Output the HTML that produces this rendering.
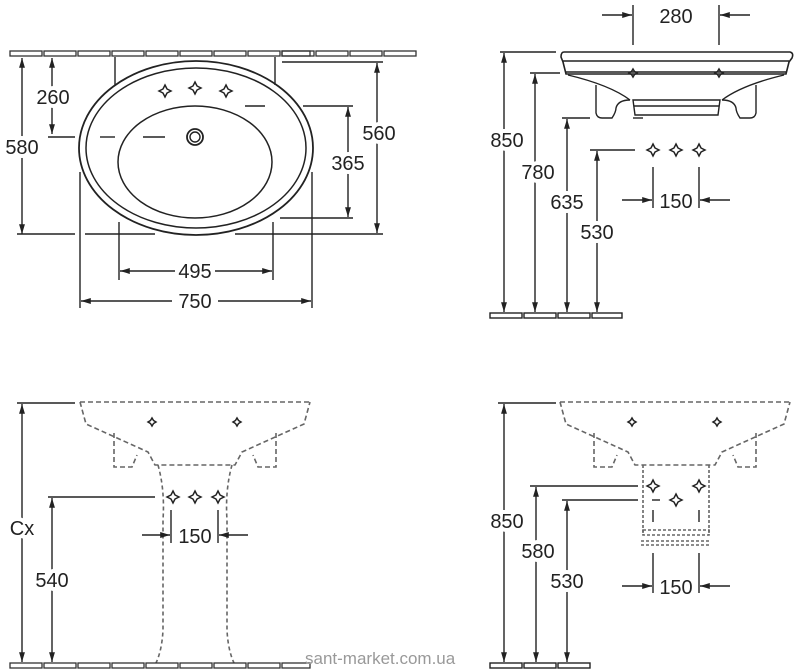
<!DOCTYPE html>
<html><head><meta charset="utf-8"><style>
html,body{margin:0;padding:0;background:#fff;}
svg{display:block;}
text{font-family:"Liberation Sans",sans-serif;font-size:20px;fill:#222;text-anchor:middle;paint-order:stroke;stroke:#fff;stroke-width:8px;stroke-linejoin:round;}
</style></head><body>
<svg width="800" height="672" viewBox="0 0 800 672" xmlns="http://www.w3.org/2000/svg">
<defs>
<marker id="a" viewBox="0 0 10 10" refX="10" refY="5" markerWidth="7" markerHeight="7" orient="auto-start-reverse"><path d="M0,2 L10,5 L0,8 z" fill="#222"/></marker>
<g id="tap"><path d="M0,-6 L2,-2 L6,0 L2,2 L0,6 L-2,2 L-6,0 L-2,-2 Z" fill="none" stroke="#222" stroke-width="1.5"/></g>
<g id="tapS"><path d="M0,-4 L1.5,-1.5 L4,0 L1.5,1.5 L0,4 L-1.5,1.5 L-4,0 L-1.5,-1.5 Z" fill="none" stroke="#222" stroke-width="1.5"/></g>
<g id="floor9" fill="none" stroke="#333" stroke-width="1.3"><rect x="0" y="0" width="32" height="5"/><rect x="34" y="0" width="32" height="5"/><rect x="68" y="0" width="32" height="5"/><rect x="102" y="0" width="32" height="5"/><rect x="136" y="0" width="32" height="5"/><rect x="170" y="0" width="32" height="5"/><rect x="204" y="0" width="32" height="5"/><rect x="238" y="0" width="32" height="5"/><rect x="272" y="0" width="28" height="5"/></g>
<g id="floor"><use href="#floor9"/><g fill="none" stroke="#333" stroke-width="1.3"><rect x="272" y="0" width="32" height="5"/><rect x="306" y="0" width="32" height="5"/><rect x="340" y="0" width="32" height="5"/><rect x="374" y="0" width="32" height="5"/></g></g>
<g id="dsink">
<g fill="none" stroke="#666" stroke-width="1.6" stroke-dasharray="5,3">
<path d="M80,402 L310,402"/>
<path d="M80,402 L86,424 L148,452 L155,465 L235,465 L242,452 L304,424 L310,402"/>
<path d="M114,433 L114,467 L132,467 L137,455"/>
<path d="M276,433 L276,467 L258,467 L253,455"/>
</g>
<use href="#tapS" x="152" y="422"/><use href="#tapS" x="237" y="422"/>
</g>
</defs>
<g stroke="#222" stroke-width="1.4" fill="none">
<use href="#floor" x="10" y="51"/>
<line x1="115" y1="57" x2="115" y2="85"/><line x1="275" y1="57" x2="275" y2="85"/>
<line x1="282" y1="62" x2="383" y2="62"/>
<ellipse cx="196" cy="148" rx="117" ry="87" stroke-width="1.8"/>
<ellipse cx="196" cy="148" rx="110" ry="80" stroke-width="1.5"/>
<ellipse cx="195" cy="162" rx="77" ry="56" stroke-width="1.5"/>
<circle cx="195" cy="137" r="8" stroke-width="1.8"/><circle cx="195" cy="137" r="5"/>
<line x1="22" y1="58" x2="22" y2="234" marker-start="url(#a)" marker-end="url(#a)"/>
<line x1="52" y1="58" x2="52" y2="134" marker-start="url(#a)" marker-end="url(#a)"/>
<line x1="48" y1="137" x2="75" y2="137"/><line x1="100" y1="137" x2="115" y2="137"/><line x1="143" y1="137" x2="165" y2="137"/>
<line x1="17" y1="234" x2="75" y2="234"/><line x1="85" y1="234" x2="155" y2="234"/><line x1="235" y1="234" x2="383" y2="234"/>
<line x1="377" y1="63" x2="377" y2="233" marker-start="url(#a)" marker-end="url(#a)"/>
<line x1="245" y1="106" x2="265" y2="106"/><line x1="303" y1="106" x2="353" y2="106"/>
<line x1="280" y1="218" x2="353" y2="218"/>
<line x1="348" y1="107" x2="348" y2="217" marker-start="url(#a)" marker-end="url(#a)"/>
<line x1="119" y1="222" x2="119" y2="280"/><line x1="273" y1="222" x2="273" y2="280"/>
<line x1="120" y1="271" x2="175" y2="271" marker-start="url(#a)"/><line x1="215" y1="271" x2="272" y2="271" marker-end="url(#a)"/>
<line x1="80" y1="172" x2="80" y2="308"/><line x1="312" y1="172" x2="312" y2="308"/>
<line x1="81" y1="301" x2="172" y2="301" marker-start="url(#a)"/><line x1="218" y1="301" x2="311" y2="301" marker-end="url(#a)"/>
</g>
<use href="#tap" x="165" y="91"/><use href="#tap" x="195" y="88"/><use href="#tap" x="226" y="91"/>
<text x="53" y="104">260</text><text x="22" y="154">580</text><text x="379" y="140">560</text><text x="348" y="170">365</text>
<text x="195" y="278">495</text><text x="195" y="308">750</text>

<g stroke="#222" stroke-width="1.4" fill="none">
<line x1="633" y1="5" x2="633" y2="45"/><line x1="719" y1="5" x2="719" y2="45"/>
<line x1="602" y1="15" x2="632" y2="15" marker-end="url(#a)"/><line x1="750" y1="15" x2="720" y2="15" marker-end="url(#a)"/>
<path d="M564,52 L790,52 Q794,53 792,58 L789,62 L786,74 L566,74 L563,62 L561,57 Q561,52 564,52 Z" stroke-width="1.6"/>
<line x1="563" y1="61" x2="789" y2="61"/><line x1="566" y1="72" x2="786" y2="72"/>
<path d="M568,75 Q610,85 630,100 M784,75 Q742,85 722,100"/>
<path d="M633,100 L720,100 L718,115 L635,115 Z"/><line x1="634" y1="106" x2="719" y2="106"/>
<path d="M596,85 L596,113 Q597,118 602,118 L612,118 Q616,112 616,108 Q618,100 630,100"/>
<path d="M756,85 L756,113 Q755,118 750,118 L740,118 Q736,112 736,108 Q734,100 722,100"/>
<line x1="500" y1="52" x2="556" y2="52"/><line x1="530" y1="73" x2="560" y2="73"/>
<line x1="562" y1="118" x2="590" y2="118"/><line x1="633" y1="118" x2="643" y2="118"/>
<line x1="590" y1="150" x2="635" y2="150"/>
<line x1="504" y1="53" x2="504" y2="312" marker-start="url(#a)" marker-end="url(#a)"/>
<line x1="535" y1="74" x2="535" y2="312" marker-start="url(#a)" marker-end="url(#a)"/>
<line x1="567" y1="119" x2="567" y2="312" marker-start="url(#a)" marker-end="url(#a)"/>
<line x1="597" y1="151" x2="597" y2="312" marker-start="url(#a)" marker-end="url(#a)"/>
<line x1="653" y1="167" x2="653" y2="208"/><line x1="699" y1="167" x2="699" y2="208"/>
<line x1="622" y1="200" x2="652" y2="200" marker-end="url(#a)"/><line x1="730" y1="200" x2="700" y2="200" marker-end="url(#a)"/>
<rect x="490" y="313" width="32" height="5"/><rect x="524" y="313" width="32" height="5"/><rect x="558" y="313" width="32" height="5"/><rect x="592" y="313" width="30" height="5"/>
</g>
<use href="#tapS" x="633" y="73"/><use href="#tapS" x="719" y="73"/>
<use href="#tap" x="653" y="150"/><use href="#tap" x="676" y="150"/><use href="#tap" x="699" y="150"/>
<text x="676" y="23">280</text><text x="507" y="147">850</text><text x="538" y="179">780</text><text x="567" y="209">635</text><text x="597" y="239">530</text><text x="676" y="208">150</text>

<use href="#dsink"/>
<g fill="none" stroke="#666" stroke-width="1.6" stroke-dasharray="4,3">
<path d="M158,465 Q165,490 163,520 L163,630 Q162,650 156,663"/>
<path d="M232,465 Q225,490 227,520 L227,630 Q228,650 234,663"/>
</g>
<g stroke="#222" stroke-width="1.4" fill="none">
<use href="#floor9" x="10" y="663"/>
<line x1="17" y1="403" x2="75" y2="403"/>
<line x1="22" y1="404" x2="22" y2="662" marker-start="url(#a)" marker-end="url(#a)"/>
<line x1="48" y1="497" x2="155" y2="497"/>
<line x1="52" y1="498" x2="52" y2="662" marker-start="url(#a)" marker-end="url(#a)"/>
<line x1="171" y1="510" x2="171" y2="543"/><line x1="218" y1="510" x2="218" y2="543"/>
<line x1="142" y1="535" x2="170" y2="535" marker-end="url(#a)"/><line x1="248" y1="535" x2="219" y2="535" marker-end="url(#a)"/>
</g>
<use href="#tap" x="173" y="497"/><use href="#tap" x="195" y="497"/><use href="#tap" x="218" y="497"/>
<text x="22" y="535">Cx</text><text x="52" y="587">540</text><text x="195" y="543">150</text>
<text x="305" y="664" style="font-size:17px;fill:#999;text-anchor:start;stroke-width:0">sant-market.com.ua</text>

<use href="#dsink" x="480"/>
<g fill="none" stroke="#666" stroke-width="1.6" stroke-dasharray="3,2">
<path d="M643,465 L643,533 M709,465 L709,533"/>
<rect x="643" y="530" width="66" height="5"/>
<path d="M641,541 L711,541"/><path d="M641,545 L711,545"/>
</g>
<g stroke="#222" stroke-width="1.4" fill="none">
<rect x="490" y="663" width="32" height="5"/><rect x="524" y="663" width="32" height="5"/><rect x="558" y="663" width="32" height="5"/>
<line x1="498" y1="403" x2="556" y2="403"/>
<line x1="504" y1="404" x2="504" y2="662" marker-start="url(#a)" marker-end="url(#a)"/>
<line x1="530" y1="486" x2="638" y2="486"/>
<line x1="536" y1="487" x2="536" y2="662" marker-start="url(#a)" marker-end="url(#a)"/>
<line x1="562" y1="500" x2="638" y2="500"/><line x1="652" y1="500" x2="660" y2="500"/>
<line x1="567" y1="501" x2="567" y2="662" marker-start="url(#a)" marker-end="url(#a)"/>
<line x1="653" y1="510" x2="653" y2="522"/><line x1="699" y1="510" x2="699" y2="522"/>
<line x1="653" y1="553" x2="653" y2="593"/><line x1="699" y1="553" x2="699" y2="593"/>
<line x1="622" y1="586" x2="652" y2="586" marker-end="url(#a)"/><line x1="730" y1="586" x2="700" y2="586" marker-end="url(#a)"/>
</g>
<use href="#tap" x="653" y="486"/><use href="#tap" x="699" y="486"/><use href="#tap" x="676" y="500"/>
<text x="507" y="528">850</text><text x="538" y="558">580</text><text x="567" y="588">530</text><text x="676" y="594">150</text>
</svg>
</body></html>
